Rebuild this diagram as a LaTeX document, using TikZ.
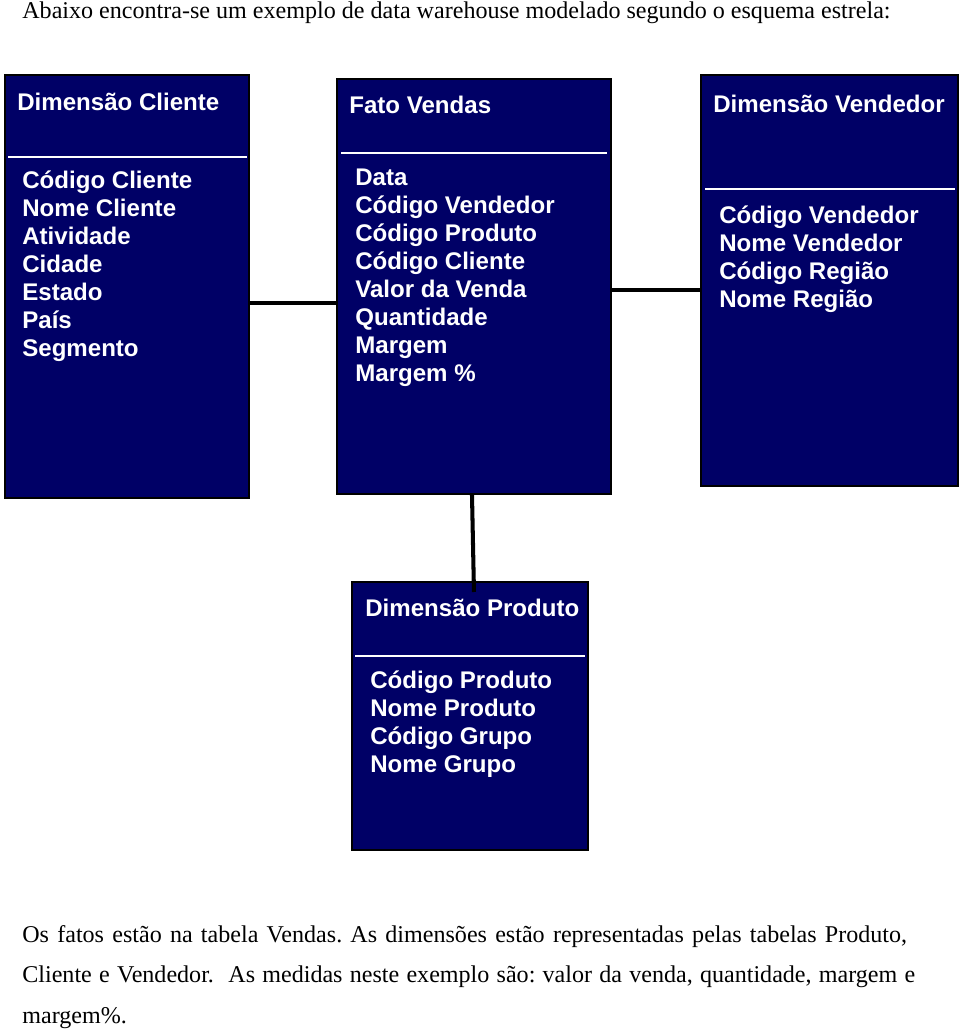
\documentclass[tikz,border=0pt]{standalone}
\usepackage{fontspec}
\setmainfont{Liberation Serif}
\setsansfont{Liberation Sans}
\usepackage{tikz}
\usetikzlibrary{positioning, calc}
\definecolor{boxblue}{RGB}{0,0,102}
\frenchspacing

\begin{document}
\begin{tikzpicture}[x=0.02cm, y=-0.02cm,
    tabela/.style={draw=black, line width=1pt, fill=boxblue, inner sep=0pt, outer sep=0pt, anchor=north west},
    titulo/.style={text=white, font=\fontsize{13.7}{15.9}\selectfont\sffamily\bfseries, inner sep=0pt, anchor=base west},
    divisa/.style={white, line width=1.2pt},
    ligacao/.style={black, line width=2.3pt},
    texto/.style={font=\fontsize{13.7}{16}\selectfont, inner sep=0pt, anchor=base west}]
    \useasboundingbox (0,0) rectangle (960,1031);

    \node[texto] (intro) at (22,18) {Abaixo encontra-se um exemplo de data warehouse modelado segundo o esquema estrela:};

    % tabelas
    \node[tabela, minimum width=4.88cm, minimum height=8.46cm] (cli) at (5,75) {};
    \node[tabela, minimum width=5.48cm, minimum height=8.3cm] (fato) at (337,79) {};
    \node[tabela, minimum width=5.14cm, minimum height=8.22cm] (vend) at (701,75) {};
    \node[tabela, minimum width=4.72cm, minimum height=5.36cm] (prod) at (352,582) {};

    \draw[divisa] (8,157) -- (247,157);
    \draw[divisa] (341,153) -- (607,153);
    \draw[divisa] (705,189) -- (955,189);
    \draw[divisa] (355,656) -- (585,656);

    \node[titulo] (cli-t) at (17,110) {Dimensão Cliente};
    \node[titulo] (fato-t) at (349,113) {Fato Vendas};
    \node[titulo] (vend-t) at (713,112) {Dimensão Vendedor};
    \node[titulo] (prod-t) at (365,616) {Dimensão Produto};

    \foreach \campo [count=\i] in {Código Cliente, Nome Cliente, Atividade, Cidade, Estado, País, Segmento}
        \node[titulo] (cli-\i) at (22,{188+28*(\i-1)}) {\campo};
    \foreach \campo [count=\i] in {Data, Código Vendedor, Código Produto, Código Cliente, Valor da Venda, Quantidade, Margem, Margem \%}
        \node[titulo] (fato-\i) at (355,{185+28*(\i-1)}) {\campo};
    \foreach \campo [count=\i] in {Código Vendedor, Nome Vendedor, Código Região, Nome Região}
        \node[titulo] (vend-\i) at (719,{223+28*(\i-1)}) {\campo};
    \foreach \campo [count=\i] in {Código Produto, Nome Produto, Código Grupo, Nome Grupo}
        \node[titulo] (prod-\i) at (370,{688+28*(\i-1)}) {\campo};

    % ligacoes
    \coordinate (y-cli) at (0,303);
    \coordinate (y-vend) at (0,290);
    \draw[ligacao] (cli.east |- y-cli) -- (fato.west |- y-cli);
    \draw[ligacao] (fato.east |- y-vend) -- (vend.west |- y-vend);
    \draw[ligacao] ([xshift=-0.04cm]fato.south) -- ([xshift=0.08cm, yshift=-0.2cm]prod.north);

    \node[texto] (obs-1) at (22,942) {\makebox[17.7cm][s]{Os fatos estão na tabela Vendas. As dimensões estão representadas pelas tabelas Produto,}};
    \node[texto] (obs-2) at (22,982) {\makebox[17.86cm][s]{Cliente e Vendedor.\ \ As medidas neste exemplo são: valor da venda, quantidade, margem e}};
    \node[texto] (obs-3) at (22,1023) {margem\%.};
\end{tikzpicture}
\end{document}
